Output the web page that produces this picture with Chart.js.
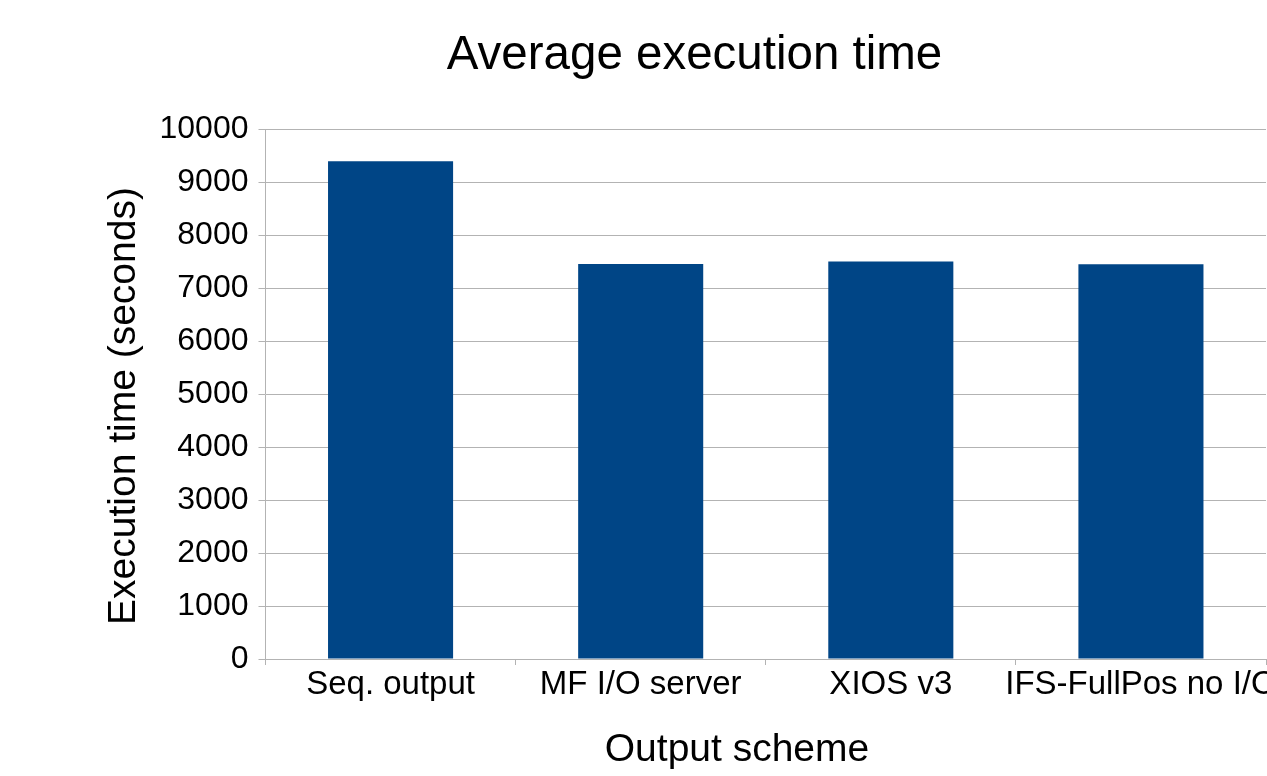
<!DOCTYPE html>
<html>
<head>
<meta charset="utf-8">
<script src="https://cdn.jsdelivr.net/npm/chart.js@4"></script>
<style>
html,body{margin:0;padding:0;background:#fff;}
#wrap{width:1267px;height:776px;}
</style>
</head>
<body>
<div id="wrap"><canvas id="c" width="1267" height="776"></canvas></div>
<script>
const categories = ["Seq. output", "MF I/O server", "XIOS v3", "IFS-FullPos no I/O"];
const executionTime = [9400, 7462, 7508, 7456];
const yTicks = [0, 1000, 2000, 3000, 4000, 5000, 6000, 7000, 8000, 9000, 10000];

const GRID = '#b3b3b3';
const FONT = "'Liberation Sans', Arial, sans-serif";

// The reference is a cropped picture: the chart title and the axis titles
// are centred on the original frame, so shift their centres.
const titleCentre = 694.5;
const xTitleCentre = 737;
const yTitleCentre = 406;

function patchTitle(scale, horizontal, centre) {
  if (!scale || scale._shiftPatched) return;
  const orig = scale.drawTitle;
  scale.drawTitle = function () {
    if (horizontal) {
      const l = this.left, r = this.right, half = (r - l) / 2;
      this.left = centre - half; this.right = centre + half;
      orig.apply(this, arguments);
      this.left = l; this.right = r;
    } else {
      const t = this.top, b = this.bottom, half = (b - t) / 2;
      this.top = centre - half; this.bottom = centre + half;
      orig.apply(this, arguments);
      this.top = t; this.bottom = b;
    }
  };
  scale._shiftPatched = true;
}

const centreShift = {
  id: 'centreShift',
  afterLayout(chart) {
    const tb = chart.titleBlock;
    if (tb) { tb.left = titleCentre - 700; tb.right = titleCentre + 700; }
    patchTitle(chart.scales.x, true, xTitleCentre);
    patchTitle(chart.scales.y, false, yTitleCentre);
  }
};

new Chart(document.getElementById('c'), {
  type: 'bar',
  data: {
    labels: categories,
    datasets: [{
      data: executionTime,
      backgroundColor: '#004586',
      borderWidth: 0,
      categoryPercentage: 1.0,
      barPercentage: 0.5
    }]
  },
  plugins: [centreShift],
  options: {
    responsive: false,
    animation: false,
    devicePixelRatio: 1,
    layout: { padding: { left: 0, right: 1, top: 0, bottom: 0 } },
    plugins: {
      legend: { display: false },
      tooltip: { enabled: false },
      title: {
        display: true,
        text: 'Average execution time',
        color: '#000',
        font: { family: FONT, size: 47.5, weight: 'normal' },
        padding: { top: 27, bottom: 45.5 }
      }
    },
    scales: {
      x: {
        offset: true,
        grid: {
          offset: true,
          drawOnChartArea: true,
          color: (ctx) => ctx.index === categories.length ? GRID : 'rgba(0,0,0,0)',
          tickColor: GRID,
          tickLength: 6,
          lineWidth: 1
        },
        border: { display: true, color: GRID },
        ticks: {
          color: '#000',
          font: { family: FONT, size: 33 },
          padding: 0,
          maxRotation: 0,
          minRotation: 0,
          autoSkip: false
        },
        title: {
          display: true,
          text: 'Output scheme',
          color: '#000',
          font: { family: FONT, size: 39 },
          padding: { top: 0, bottom: 2 }
        },
        afterFit: (s) => { s.height = 117; s.paddingLeft = 0; s.paddingRight = 0; }
      },
      y: {
        min: 0,
        max: 10000,
        afterBuildTicks: (s) => { s.ticks = yTicks.map(v => ({ value: v })); },
        grid: { color: GRID, tickColor: GRID, tickLength: 7, lineWidth: 1 },
        border: { display: true, color: GRID },
        ticks: {
          color: '#000',
          font: { family: FONT, size: 32 },
          padding: 10,
          callback: (v) => String(v)
        },
        title: {
          display: true,
          text: 'Execution time (seconds)',
          color: '#000',
          font: { family: FONT, size: 39 },
          padding: { top: 100.5, bottom: 0 }
        },
        afterFit: (s) => { s.width = 265.5; s.paddingTop = 0; s.paddingBottom = 0; }
      }
    }
  }
});
</script>
</body>
</html>
